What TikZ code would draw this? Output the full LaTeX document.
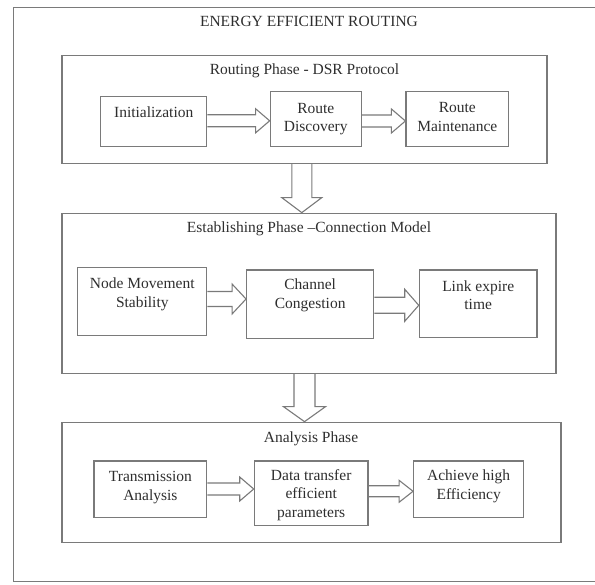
\documentclass[tikz,border=0pt]{standalone}
\usepackage[]{xcolor}
\usepackage{fontspec}
\setmainfont{Liberation Serif}
\usepackage{tikz}
\usetikzlibrary{calc}

\definecolor{linegray}{gray}{0.48}
\definecolor{textgray}{gray}{0.18}

% hollow block arrows: from, to, y (or x) of the middle, half width of the shaft
\newcommand{\harrow}[4]{%
  \draw[fatarrow] let \p1=(#1.east), \p2=(#2.west), \p3=(0,#3) in
    (\x1,\y3+#4pt) -- (\x2-14pt,\y3+#4pt) -- (\x2-14pt,\y3+2*#4pt) -- (\x2,\y3)
    -- (\x2-14pt,\y3-2*#4pt) -- (\x2-14pt,\y3-#4pt) -- (\x1,\y3-#4pt);}
\newcommand{\varrow}[4]{%
  \draw[fatarrow] let \p1=(#1.south), \p2=(#2.north), \p3=(#3,0) in
    (\x3-#4pt,\y1) -- (\x3-#4pt,\y2+15pt) -- (\x3-2*#4pt,\y2+15pt) -- (\x3,\y2)
    -- (\x3+2*#4pt,\y2+15pt) -- (\x3+#4pt,\y2+15pt) -- (\x3+#4pt,\y1);}

\begin{document}
\begin{tikzpicture}[x=1pt,y=-1pt,
    every node/.style={text=textgray, font=\fontsize{15.5}{18.5}\selectfont},
    phase/.style={draw=linegray, line width=1.3pt, inner sep=0pt},
    block/.style={draw=linegray, line width=1.3pt, align=center, inner sep=3pt},
    fatarrow/.style={draw=linegray, line width=1.1pt, line join=miter}]
    \useasboundingbox (0,0) rectangle (595,585);
    \draw[linegray, line width=1.3pt] (600,7.5) -- (13.5,7.5) -- (13.5,581.5) -- (600,581.5);
    \draw (309,21) node {ENERGY EFFICIENT ROUTING};

    % routing phase
    \node[phase, minimum width=485, minimum height=107.6] (routing) at (304.5,109.5) {};
    \draw (304.5,70.5) node {Routing Phase - DSR Protocol};
    \node[block, minimum width=106, minimum height=50, text depth=20pt] (init) at (153.7,121.7) {Initialization};
    \node[block, minimum width=91, minimum height=55] (discovery) at (315.8,119.2) {Route\\Discovery};
    \node[block, minimum width=102.5, minimum height=55, text depth=4.6pt] (maint) at (457.3,119.2) {Route\\Maintenance};
    \harrow{init}{discovery}{120.8}{6}
    \harrow{discovery}{maint}{121}{6}

    % establishing phase
    \node[phase, minimum width=494, minimum height=160] (establish) at (309,293.3) {};
    \draw (309,228.5) node {Establishing Phase --Connection Model};
    \node[block, minimum width=129, minimum height=68.4, text depth=17.6pt] (nodemove) at (142.3,301.5) {Node Movement\\Stability};
    \node[block, minimum width=127, minimum height=68.3, text depth=21.6pt] (congestion) at (310.2,304.2) {Channel\\Congestion};
    \node[block, minimum width=117.6, minimum height=67.7, text depth=17.2pt] (linkexp) at (478.2,303.8) {Link expire\\time};
    \harrow{nodemove}{congestion}{299}{7.5}
    \harrow{congestion}{linkexp}{305.3}{8}
    \varrow{routing}{establish}{301.8}{10}

    % analysis phase
    \node[phase, minimum width=499, minimum height=120.4] (analysis) at (311.5,482.5) {};
    \draw (311,438.5) node {Analysis Phase};
    \node[block, minimum width=112.8, minimum height=56.7, text depth=6.6pt] (transmit) at (150.4,489.3) {Transmission\\Analysis};
    \node[block, minimum width=113.7, minimum height=64.7, text depth=0pt] (datatransfer) at (311.2,493.3) {Data transfer\\efficient\\parameters};
    \node[block, minimum width=110, minimum height=56.7, text depth=9.2pt] (efficiency) at (468.7,489.3) {Achieve high\\Efficiency};
    \harrow{transmit}{datatransfer}{489}{6}
    \harrow{datatransfer}{efficiency}{491.3}{5.5}
    \varrow{establish}{analysis}{304.5}{10.5}
\end{tikzpicture}
\end{document}
